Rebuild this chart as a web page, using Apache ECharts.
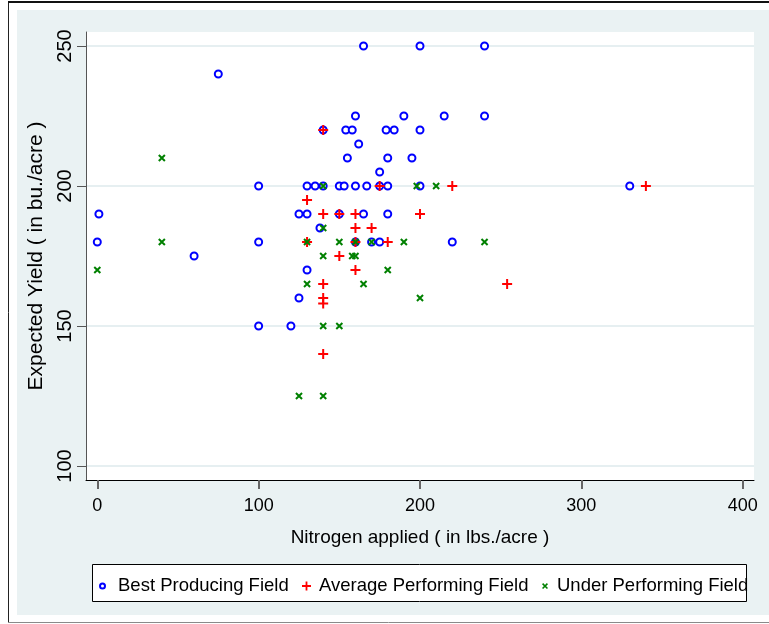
<!DOCTYPE html>
<html>
<head>
<meta charset="utf-8">
<style>
  html, body { margin: 0; padding: 0; background: #fff; }
  #chart { width: 769px; height: 624px; }
</style>
<script src="https://cdn.jsdelivr.net/npm/echarts@6/dist/echarts.min.js"></script>
</head>
<body>
<div id="chart"></div>
<script>
// Nitrogen applied (lbs./acre) and expected yield (bu./acre) per field group
const bestNitrogen = [165, 200, 240, 75, 160, 190, 215, 240, 140, 154, 158, 179, 184, 200, 162, 155, 180, 195, 175,
  100, 130, 135, 140, 150, 153, 160, 167, 175, 180, 200, 330, 1, 125, 130, 150, 165, 180, 138,
  0, 100, 160, 170, 175, 220, 60, 130, 125, 100, 120];
const bestYield = [250, 250, 250, 240, 225, 225, 225, 225, 220, 220, 220, 220, 220, 220, 215, 210, 210, 210, 205,
  200, 200, 200, 200, 200, 200, 200, 200, 200, 200, 200, 200, 190, 190, 190, 190, 190, 190, 185,
  180, 180, 180, 180, 180, 180, 175, 170, 160, 150, 150];

const avgNitrogen = [140, 175, 220, 340, 130, 140, 150, 160, 200, 160, 170, 130, 160, 180, 150, 160, 140, 254, 140, 140, 140];
const avgYield = [220, 200, 200, 200, 195, 190, 190, 190, 190, 185, 185, 180, 180, 180, 175, 170, 165, 165, 160, 158, 140];

const underNitrogen = [40, 140, 198, 210, 140, 40, 130, 150, 160, 170, 190, 240, 140, 158, 160, 0, 180, 130, 165, 200, 140, 150, 125, 140];
const underYield = [210, 200, 200, 200, 185, 180, 180, 180, 180, 180, 180, 180, 175, 175, 175, 170, 170, 165, 165, 160, 150, 150, 125, 125];

const seriesNames = ['Best Producing Field', 'Average Performing Field', 'Under Performing Field'];
const xTicks = [0, 100, 200, 300, 400];
const yTicks = [100, 150, 200, 250];

const FONT = '"Liberation Sans", Arial, sans-serif';
const PLUS = 'path://M4,0h2v10h-2z M0,4h10v2h-10z';
const CROSS = 'path://M0,1.5L1.5,0L8,6.5L6.5,8Z M6.5,0L8,1.5L1.5,8L0,6.5Z';

const pairs = (xs, ys) => xs.map((x, i) => [x, ys[i]]);
const legendText = { fontFamily: FONT, fontSize: 18.5, color: '#000', lineHeight: 20 };

const chart = echarts.init(document.getElementById('chart'), null, { renderer: 'canvas' });

chart.setOption({
  animation: false,
  backgroundColor: '#ffffff',
  textStyle: { fontFamily: FONT },
  graphic: {
    elements: [
      { type: 'rect', z: -10, silent: true, shape: { x: 17, y: 10, width: 752, height: 605 }, style: { fill: '#eaf2f3' } },
      { type: 'line', z: -9, silent: true, shape: { x1: 8.5, y1: 2, x2: 8.5, y2: 623 }, style: { stroke: '#222', lineWidth: 1 } },
      { type: 'line', z: -9, silent: true, shape: { x1: 8, y1: 2, x2: 769, y2: 2 }, style: { stroke: '#111', lineWidth: 2 } },
      { type: 'line', z: -9, silent: true, shape: { x1: 8, y1: 622.5, x2: 769, y2: 622.5 }, style: { stroke: '#8a8a8a', lineWidth: 1 } },
      { type: 'rect', z: 1, silent: true, shape: { x: 92.5, y: 564.5, width: 654, height: 37 }, style: { fill: '#ffffff', stroke: '#000', lineWidth: 1 } }
    ]
  },
  grid: {
    left: 86, top: 32, right: 15, bottom: 144,
    show: true, backgroundColor: '#ffffff', borderWidth: 0
  },
  legend: [
    {
      data: [{ name: seriesNames[0], icon: 'emptyCircle', itemStyle: { color: '#0000ff', borderColor: '#0000ff', borderWidth: 1.5 } }],
      left: 99, top: 576, padding: 0, itemWidth: 21, itemHeight: 5, symbolKeepAspect: true,
      textStyle: legendText, z: 5
    },
    {
      data: [{ name: seriesNames[1], icon: PLUS, itemStyle: { color: '#ff0000' } }],
      left: 302, top: 576, padding: 0, itemWidth: 15, itemHeight: 9, symbolKeepAspect: true,
      textStyle: legendText, z: 5
    },
    {
      data: [{ name: seriesNames[2], icon: CROSS, itemStyle: { color: '#008000' } }],
      left: 542, top: 576, padding: 0, itemWidth: 14, itemHeight: 6, symbolKeepAspect: true,
      textStyle: legendText, z: 5
    }
  ],
  xAxis: {
    type: 'value', min: -7, max: 407,
    name: 'Nitrogen applied ( in lbs./acre )', nameLocation: 'middle', nameGap: 48,
    nameTextStyle: { fontFamily: FONT, fontSize: 19, color: '#000' },
    axisLine: { show: true, onZero: false, lineStyle: { color: '#000', width: 1 } },
    axisTick: { show: true, customValues: xTicks, length: 9, lineStyle: { color: '#666', width: 2 } },
    axisLabel: { customValues: xTicks, fontFamily: FONT, fontSize: 18, color: '#000', margin: 17 },
    splitLine: { show: false }
  },
  yAxis: {
    type: 'value', min: 95, max: 255,
    name: 'Expected Yield ( in bu./acre )', nameLocation: 'middle', nameGap: 36, nameRotate: 90,
    nameTextStyle: { fontFamily: FONT, fontSize: 21, color: '#000' },
    axisLine: { show: true, onZero: false, lineStyle: { color: '#555', width: 1 } },
    axisTick: { show: true, customValues: yTicks, length: 9, lineStyle: { color: '#555', width: 1 } },
    axisLabel: { customValues: yTicks, rotate: 90, fontFamily: FONT, fontSize: 20, color: '#000', margin: 11 },
    splitLine: { show: true, lineStyle: { color: '#e6eff1', width: 2 } }
  },
  series: [
    {
      name: seriesNames[0], type: 'scatter', data: pairs(bestNitrogen, bestYield),
      symbol: 'emptyCircle', symbolSize: 7,
      itemStyle: { color: '#0000ff', borderColor: '#0000ff', borderWidth: 2, opacity: 1 }
    },
    {
      name: seriesNames[1], type: 'scatter', data: pairs(avgNitrogen, avgYield),
      symbol: PLUS, symbolSize: 10,
      itemStyle: { color: '#ff0000', opacity: 1 }
    },
    {
      name: seriesNames[2], type: 'scatter', data: pairs(underNitrogen, underYield),
      symbol: CROSS, symbolSize: 7.5,
      itemStyle: { color: '#008000', opacity: 1 }
    }
  ]
});
</script>
</body>
</html>
